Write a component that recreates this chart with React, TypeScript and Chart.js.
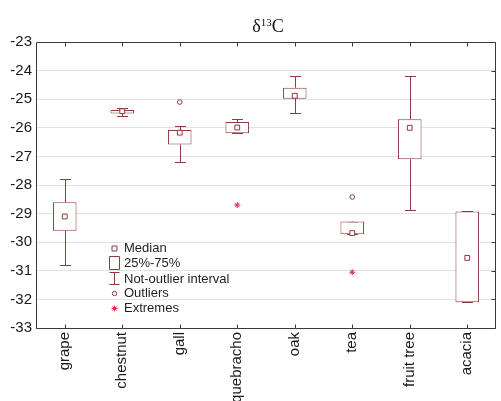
import { useEffect, useRef } from "react";
import { Chart, registerables } from "chart.js";
Chart.register(...registerables);

const categories = ["grape", "chestnut", "gall", "quebracho", "oak", "tea", "fruit tree", "acacia"];
const whiskerLow = [-30.8, -25.6, -27.2, -26.19, -25.48, -29.72, -28.88, -32.1];
const q1 = [-29.6, -25.5, -26.58, -26.19, -24.98, -29.72, -27.1, -32.1];
const medians = [-29.1, -25.42, -26.17, -25.99, -24.88, -29.68, -26.0, -30.55];
const q3 = [-28.6, -25.38, -26.08, -25.8, -24.6, -29.28, -25.7, -28.93];
const whiskerHigh = [-27.8, -25.31, -25.92, -25.69, -24.2, -29.28, -24.2, -28.9];
const outliers: (number | null)[] = [null, null, -25.1, null, null, -28.42, null, null];
const extremes: (number | null)[] = [null, null, null, -28.7, null, -31.05, null, null];
const yMin = -33;
const yMax = -23;
const legendLabels = ["Median", "25%-75%", "Not-outlier interval", "Outliers", "Extremes"];

const BOX = "#8e3a3e";
const EXT = "#c8344c";
const FRAME = "#3a3a3a";

const whiskerPlugin = {
  id: "whiskers",
  beforeDatasetsDraw(chart: any) {
    const { ctx, scales } = chart;
    const x = scales.x, y = scales.y;
    ctx.save();
    ctx.strokeStyle = BOX;
    ctx.lineWidth = 1;
    categories.forEach((_, i) => {
      const cx = Math.round(x.getPixelForValue(i)) + 0.5;
      const segs = [
        [q3[i], whiskerHigh[i]],
        [q1[i], whiskerLow[i]],
      ];
      segs.forEach(([a, b]) => {
        const ya = y.getPixelForValue(a);
        const yb = Math.round(y.getPixelForValue(b)) + 0.5;
        ctx.beginPath();
        ctx.moveTo(cx, ya);
        ctx.lineTo(cx, yb);
        ctx.moveTo(cx - 5.5, yb);
        ctx.lineTo(cx + 5.5, yb);
        ctx.stroke();
      });
    });
    ctx.restore();
  },
};

const framePlugin = {
  id: "frame",
  afterDraw(chart: any) {
    const { ctx, chartArea, scales } = chart;
    const { left, right, top, bottom } = chartArea;
    const L = Math.round(left) + 0.5, R = Math.round(right) - 0.5, T = Math.round(top) + 0.5, B = Math.round(bottom) + 0.5;
    ctx.save();
    ctx.strokeStyle = FRAME;
    ctx.lineWidth = 1;
    ctx.beginPath();
    ctx.moveTo(L, T); ctx.lineTo(R, T);
    ctx.moveTo(L, T); ctx.lineTo(L, B);
    ctx.moveTo(L, B); ctx.lineTo(R, B);
    ctx.moveTo(R, T); ctx.lineTo(R, B);
    categories.forEach((_, i) => {
      const cx = Math.round(scales.x.getPixelForValue(i)) + 0.5;
      ctx.moveTo(cx, T); ctx.lineTo(cx, T + 4);
      ctx.moveTo(cx, B); ctx.lineTo(cx, B - 4);
    });
    for (let v = yMin; v <= yMax; v++) {
      const yy = Math.round(scales.y.getPixelForValue(v)) + 0.5;
      ctx.moveTo(R, yy); ctx.lineTo(R - 4, yy);
    }
    ctx.stroke();

    // title
    const cx = (left + right) / 2 + 2;
    const base = 32;
    ctx.fillStyle = "#111";
    ctx.textBaseline = "alphabetic";
    const big = "18px 'Liberation Serif', 'Times New Roman', serif";
    const small = "11px 'Liberation Serif', 'Times New Roman', serif";
    ctx.font = big;
    const w1 = ctx.measureText("δ").width;
    const w3 = ctx.measureText("C").width;
    ctx.font = small;
    const w2 = ctx.measureText("13").width;
    let sx = cx - (w1 + w2 + w3) / 2;
    ctx.font = big;
    ctx.fillText("δ", sx, base);
    sx += w1;
    ctx.font = small;
    ctx.fillText("13", sx, base - 6);
    sx += w2;
    ctx.font = big;
    ctx.fillText("C", sx, base);

    // legend
    const ix = 114.5;
    const tx = 124;
    const ys = [248, 263, 279, 293, 308];
    ctx.font = "13px 'Liberation Sans', Arial, sans-serif";
    ctx.textBaseline = "middle";
    ctx.textAlign = "left";
    legendLabels.forEach((t, i) => {
      ctx.fillStyle = "#1e1e1e";
      ctx.fillText(t, tx, ys[i] + 0.5);
    });
    ctx.strokeStyle = BOX;
    ctx.fillStyle = "#fff";
    // median
    ctx.beginPath();
    ctx.rect(ix - 2.5, ys[0] - 2, 5, 5);
    ctx.fill(); ctx.stroke();
    // box
    ctx.beginPath();
    ctx.rect(109.5, 256.5, 10, 13);
    ctx.stroke();
    // whisker
    ctx.beginPath();
    ctx.moveTo(109.5, 272.5); ctx.lineTo(119.5, 272.5);
    ctx.moveTo(ix, 272.5); ctx.lineTo(ix, 284.5);
    ctx.moveTo(109.5, 284.5); ctx.lineTo(119.5, 284.5);
    ctx.stroke();
    // outlier
    ctx.beginPath();
    ctx.arc(ix, ys[3] + 0.5, 2.2, 0, Math.PI * 2);
    ctx.stroke();
    // extreme
    ctx.strokeStyle = EXT;
    ctx.beginPath();
    const r = 3;
    for (let k = 0; k < 4; k++) {
      const a = (k * Math.PI) / 4;
      ctx.moveTo(ix - r * Math.cos(a), ys[4] + 0.5 - r * Math.sin(a));
      ctx.lineTo(ix + r * Math.cos(a), ys[4] + 0.5 + r * Math.sin(a));
    }
    ctx.stroke();
    ctx.restore();
  },
};

export default function App() {
  const ref = useRef<HTMLCanvasElement>(null);
  useEffect(() => {
    document.body.style.margin = "0";
    const canvas = ref.current!;
    const chart = new Chart(canvas, {
      type: "bar",
      data: {
        labels: categories,
        datasets: [
          {
            type: "bar",
            data: categories.map((_, i) => [q1[i], q3[i]]) as any,
            backgroundColor: "#ffffff",
            borderColor: BOX,
            borderWidth: 1,
            borderSkipped: false,
            barPercentage: 0.41,
            categoryPercentage: 1,
            order: 3,
          },
          {
            type: "line",
            data: medians,
            showLine: false,
            pointStyle: "rect",
            pointRadius: 3.4,
            pointBackgroundColor: "#fff",
            pointBorderColor: BOX,
            pointBorderWidth: 1,
            order: 2,
          },
          {
            type: "line",
            data: outliers as any,
            showLine: false,
            pointStyle: "circle",
            pointRadius: 2.3,
            pointBackgroundColor: "#fff",
            pointBorderColor: BOX,
            pointBorderWidth: 1,
            order: 1,
          },
          {
            type: "line",
            data: extremes as any,
            showLine: false,
            pointStyle: "star",
            pointRadius: 3,
            pointBorderColor: EXT,
            pointBorderWidth: 1,
            order: 0,
          },
        ] as any,
      },
      options: {
        responsive: false,
        animation: false,
        events: [],
        layout: { padding: { top: 42, right: 1, left: 0, bottom: 0 } },
        plugins: { legend: { display: false }, tooltip: { enabled: false }, title: { display: false } },
        scales: {
          x: {
            offset: true,
            grid: { display: false, drawTicks: false },
            border: { display: false },
            ticks: {
              minRotation: 90,
              maxRotation: 90,
              padding: 4,
              color: "#1a1a1a",
              font: { family: "'Liberation Sans', Arial, sans-serif", size: 15 },
            },
            afterFit(scale: any) {
              scale.height = 73;
            },
          },
          y: {
            min: yMin,
            max: yMax,
            grid: { color: "#e2e2e2", drawTicks: false },
            border: { display: false },
            ticks: {
              stepSize: 1,
              padding: 4,
              color: "#1a1a1a",
              font: { family: "'Liberation Sans', Arial, sans-serif", size: 15 },
              callback: (v: any) => String(v),
            },
            afterFit(scale: any) {
              scale.width = 36;
            },
          },
        },
      },
      plugins: [whiskerPlugin, framePlugin],
    });
    return () => chart.destroy();
  }, []);
  return (
    <div style={{ width: 501, height: 401, background: "#fff" }}>
      <canvas ref={ref} width={501} height={401} style={{ display: "block" }} />
    </div>
  );
}
